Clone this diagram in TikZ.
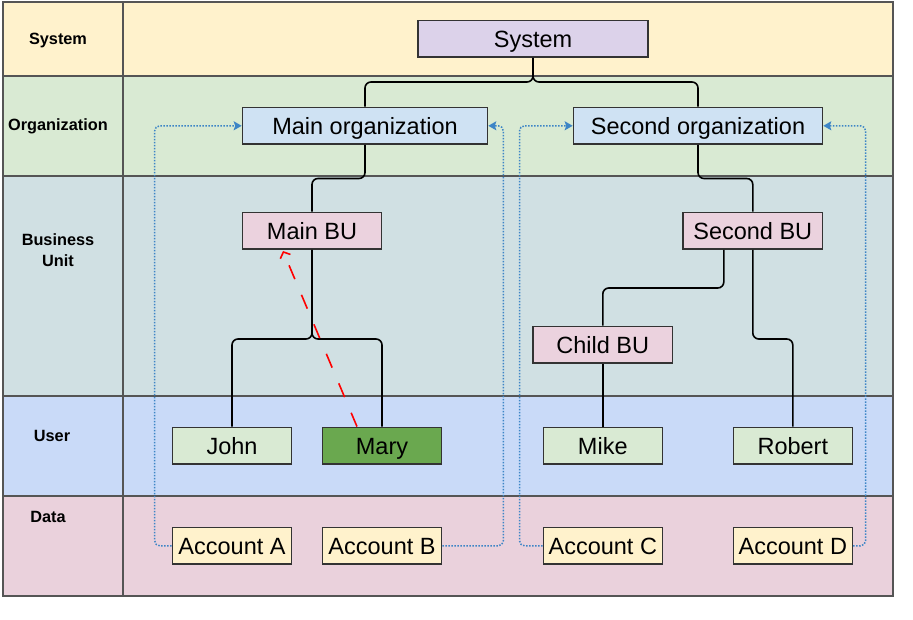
\documentclass[tikz,border=0pt]{standalone}
\usepackage{fontspec}
\setmainfont{Liberation Sans}
\usetikzlibrary{arrows.meta}
\definecolor{laneSys}{HTML}{FFF2CC}
\definecolor{laneOrg}{HTML}{D9EAD3}
\definecolor{laneBU}{HTML}{D0E0E3}
\definecolor{laneUser}{HTML}{C9DAF8}
\definecolor{laneData}{HTML}{EAD1DC}
\definecolor{fillSys}{HTML}{DCD2EA}
\definecolor{fillOrg}{HTML}{CFE2F3}
\definecolor{fillBU}{HTML}{EBD2DE}
\definecolor{fillUser}{HTML}{D9EAD3}
\definecolor{fillMary}{HTML}{6AA84F}
\definecolor{fillAcc}{HTML}{FFF2CC}
\definecolor{boxline}{HTML}{333333}
\definecolor{laneline}{HTML}{555555}
\definecolor{dotblue}{HTML}{3D85C6}
\begin{document}
\begin{tikzpicture}[x=1pt,y=-1pt,
  box/.style={draw=boxline, line width=1.6pt, minimum height=36.8pt, inner sep=0pt,
    text height=16.8pt, text depth=0pt,
    font=\fontsize{23.5}{28}\selectfont, text=black},
  lanelabel/.style={font=\bfseries\fontsize{16.3}{20.7}\selectfont, align=center, inner sep=0pt,
    text height=11.7pt, text depth=0pt},
  conn/.style={draw=black, line width=1.6pt, rounded corners=6pt},
  refline/.style={draw=red, line width=1.6pt, dash pattern=on 15pt off 17pt, -{Straight Barb[length=5pt,width=11pt]}},
  bluedot/.style={draw=dotblue, line width=1.5pt, dash pattern=on 1.5pt off 1.5pt, rounded corners=5pt,
    -{Stealth[length=8pt,width=9pt,inset=1.5pt]}}
]
\useasboundingbox (0,0) rectangle (913,620);
\fill[white] (0,0) rectangle (913,620);
% lanes
\fill[laneSys]  (3,2)   rectangle (893,76);
\fill[laneOrg]  (3,76)  rectangle (893,176);
\fill[laneBU]   (3,176) rectangle (893,396);
\fill[laneUser] (3,396) rectangle (893,496);
\fill[laneData] (3,496) rectangle (893,596);
\draw[laneline, line width=1.5pt] (3,2) rectangle (893,596);
\draw[laneline, line width=1.5pt] (3,76) -- (893,76) (3,176) -- (893,176)
  (3,396) -- (893,396) (3,496) -- (893,496) (123,2) -- (123,596);
% lane labels
\node[lanelabel] (lsys) at (58,38.7) {System};
\node[lanelabel] (lorg) at (58,125) {Organization};
\node[lanelabel] (lbu) at (58,260.3) {Business\\Unit};
\node[lanelabel] (luser) at (52,436) {User};
\node[lanelabel] (ldata) at (48,517) {Data};
% nodes
\node[box, fill=fillSys, minimum width=229.5pt] (sys) at (533,38.8) {System};
\node[box, fill=fillOrg, minimum width=245pt] (mainorg) at (365,125.8) {Main organization};
\node[box, fill=fillOrg, minimum width=249pt] (secorg) at (698,125.8) {Second organization};
\node[box, fill=fillBU, minimum width=139pt] (mainbu) at (312,230.8) {Main BU};
\node[box, fill=fillBU, minimum width=139.5pt] (secbu) at (752.8,230.8) {Second BU};
\node[box, fill=fillBU, minimum width=139.5pt] (childbu) at (602.8,344.8) {Child BU};
\node[box, fill=fillUser, minimum width=119pt] (john) at (232,445.8) {John};
\node[box, fill=fillMary, minimum width=119pt] (mary) at (382,445.8) {Mary};
\node[box, fill=fillUser, minimum width=119pt] (mike) at (602.8,445.8) {Mike};
\node[box, fill=fillUser, minimum width=119pt] (robert) at (792.8,445.8) {Robert};
\node[box, fill=fillAcc, minimum width=119pt] (acca) at (232,545.8) {Account A};
\node[box, fill=fillAcc, minimum width=119pt] (accb) at (382,545.8) {Account B};
\node[box, fill=fillAcc, minimum width=119pt] (accc) at (602.8,545.8) {Account C};
\node[box, fill=fillAcc, minimum width=119pt] (accd) at (792.8,545.8) {Account D};
% hierarchy connectors
\draw[conn] (sys.south) -- ++(0,24) -| (mainorg.north);
\draw[conn] (sys.south) -- ++(0,24) -| (secorg.north);
\draw[conn] (mainorg.south) -- ++(0,33.5) -| (mainbu.north);
\draw[conn] (secorg.south) -- ++(0,33.5) -| (secbu.north);
\draw[conn] (mainbu.south) -- ++(0,89) -| (john.north);
\draw[conn] (mainbu.south) -- ++(0,89) -| (mary.north);
\draw[conn] ([xshift=-29pt]secbu.south) -- ++(0,38) -| (childbu.north);
\draw[conn] (secbu.south) -- ++(0,89) -| (robert.north);
\draw[conn] (childbu.south) -- (mike.north);
% red dashed reference
\draw[refline] ([xshift=-25pt]mary.north) -- ([xshift=-29pt,yshift=-1pt]mainbu.south);
% blue dotted data links
\draw[bluedot] (acca.west) -- ++(-17,0) |- (mainorg.west);
\draw[bluedot] (accb.east) -- ++(61,0) |- (mainorg.east);
\draw[bluedot] (accc.west) -- ++(-23,0) |- (secorg.west);
\draw[bluedot] (accd.east) -- ++(12.5,0) |- (secorg.east);
\end{tikzpicture}
\end{document}
